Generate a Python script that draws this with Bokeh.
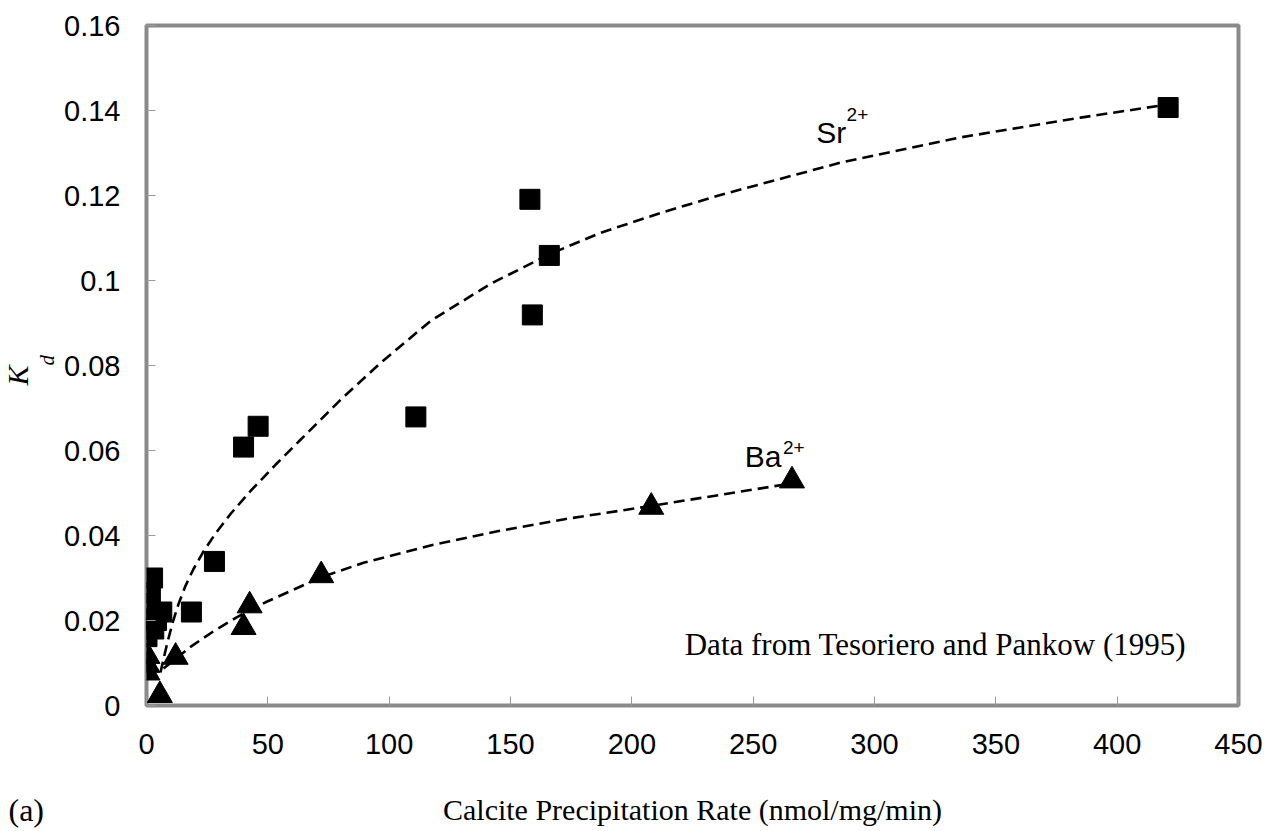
from bokeh.plotting import figure
from bokeh.models import Range1d, FixedTicker, Label, Title
from bokeh.embed import file_html
from bokeh.resources import INLINE

# ---- data ----
sr_rate = [421, 158, 166, 159, 111, 46, 40, 28, 18.5, 2.5, 1.6, 0.8, 6.3, 0.4, 4.1, 0.2, 3.0]
sr_kd = [0.1407, 0.1191, 0.1059, 0.0919, 0.0679, 0.0657, 0.0608, 0.0339, 0.0220,
         0.0300, 0.0265, 0.0240, 0.0220, 0.0205, 0.0200, 0.0162, 0.0180]

ba_rate = [266, 208, 72, 42.5, 40, 12, 5.5, 0.4, 0.4, 0.4]
ba_kd = [0.0529, 0.0467, 0.0306, 0.0235, 0.0184, 0.0114, 0.0024, 0.0116, 0.0095, 0.0077]

# dashed trend curves
sr_fit_x = [5.77, 7.01, 8.65, 10.71, 13.19, 16.07, 19.37, 23.49, 28.43, 34.62, 42.86, 53.16,
            63.46, 79.95, 96.43, 117.03, 141.76, 166.48, 187.09, 211.81, 236.54, 285.99,
            335.44, 384.89, 417.86]
sr_fit_y = [0.00776, 0.01094, 0.01489, 0.01936, 0.02388, 0.02816, 0.03212, 0.03624, 0.04047,
            0.04506, 0.05047, 0.05664, 0.06252, 0.07193, 0.08059, 0.09047, 0.09922, 0.10628,
            0.11122, 0.11588, 0.12012, 0.12774, 0.13367, 0.13833, 0.14115]

ba_fit_x = [7.01, 18.13, 27.61, 37.50, 49.04, 72.11, 89.42, 117.03, 144.64, 172.25, 208.10,
            237.36, 266.62]
ba_fit_y = [0.00871, 0.01379, 0.01746, 0.02085, 0.02428, 0.03021, 0.03358, 0.03767, 0.04099,
            0.04384, 0.04696, 0.04965, 0.05233]

x_ticks = [0, 50, 100, 150, 200, 250, 300, 350, 400, 450]
x_tick_labels = ["0", "50", "100", "150", "200", "250", "300", "350", "400", "450"]
y_ticks = [0, 0.02, 0.04, 0.06, 0.08, 0.1, 0.12, 0.14, 0.16]
y_tick_labels = ["0", "0.02", "0.04", "0.06", "0.08", "0.1", "0.12", "0.14", "0.16"]

x_title = "Calcite Precipitation Rate (nmol/mg/min)"
source_note = "Data from Tesoriero and Pankow (1995)"

SANS = "Liberation Sans"
SERIF = "Liberation Serif"

p = figure(frame_width=1092, frame_height=680,
           x_range=Range1d(0, 450), y_range=Range1d(0, 0.16),
           min_border_left=146, min_border_right=38, min_border_top=25, min_border_bottom=100,
           output_backend="svg", toolbar_location=None, background_fill_color="white",
           border_fill_color="white")

p.xgrid.visible = False
p.ygrid.visible = False
p.outline_line_color = "#8a8a8a"
p.outline_line_width = 4

for ax in (p.xaxis[0], p.yaxis[0]):
    ax.axis_line_color = None
    ax.major_tick_in = 9
    ax.major_tick_out = 0
    ax.minor_tick_line_color = None
    ax.major_tick_line_color = "#9a9a9a"
    ax.major_tick_line_width = 1
    ax.major_label_text_font = SANS
    ax.major_label_text_font_size = "29px"
    ax.major_label_text_color = "black"

p.xaxis.ticker = FixedTicker(ticks=x_ticks)
p.xaxis.major_label_overrides = {t: l for t, l in zip(x_ticks, x_tick_labels)}
p.xaxis.major_label_standoff = 28
p.xaxis.axis_label = x_title
p.xaxis.axis_label_text_font = SERIF
p.xaxis.axis_label_text_font_style = "normal"
p.xaxis.axis_label_text_font_size = "30px"
p.xaxis.axis_label_text_color = "black"
p.xaxis.axis_label_standoff = 36

p.yaxis.ticker = FixedTicker(ticks=y_ticks)
p.yaxis.major_label_overrides = {t: l for t, l in zip(y_ticks, y_tick_labels)}
p.yaxis.major_label_standoff = 26

# fitted dashed curves
p.line(sr_fit_x, sr_fit_y, line_color="black", line_width=2.6, line_dash="11 6")
p.line(ba_fit_x, ba_fit_y, line_color="black", line_width=2.6, line_dash="11 6")

# data points
p.scatter(sr_rate, sr_kd, marker="square", size=20, fill_color="black", line_color="black")
p.scatter(ba_rate, ba_kd, marker="triangle", size=25, fill_color="black", line_color="black")

# series labels
p.add_layout(Label(x=276, y=0.1349, text="Sr", text_font=SANS, text_font_size="30px",
                   text_baseline="alphabetic", text_color="black"))
p.add_layout(Label(x=288.5, y=0.1390, text="2+", text_font=SANS, text_font_size="19px",
                   text_baseline="alphabetic", text_color="black"))
p.add_layout(Label(x=246.5, y=0.0586, text="Ba", text_font=SANS, text_font_size="30px",
                   text_baseline="alphabetic", text_color="black"))
p.add_layout(Label(x=262.3, y=0.0608, text="2+", text_font=SANS, text_font_size="19px",
                   text_baseline="alphabetic", text_color="black"))

# source note
p.add_layout(Label(x=221.8, y=0.0144, text=source_note, text_font=SERIF, text_font_size="31px",
                   text_baseline="alphabetic", text_color="black"))

# y-axis title K_d: subscript d next to the axis, italic K outside it
p.add_layout(Title(text="d", text_font=SERIF, text_font_style="italic", text_font_size="21px",
                   text_color="black", align="left", offset=340, standoff=5), "left")
p.add_layout(Title(text="K", text_font=SERIF, text_font_style="italic", text_font_size="30px",
                   text_color="black", align="left", offset=320, standoff=-7), "left")

# panel tag, pulled up into the axis-title row
p.add_layout(Title(text="(a)", text_font=SERIF, text_font_style="normal", text_font_size="32px",
                   text_color="black", align="left", vertical_align="top", offset=-138,
                   standoff=-74), "below")

open("out.html", "w").write(file_html(p, INLINE))
